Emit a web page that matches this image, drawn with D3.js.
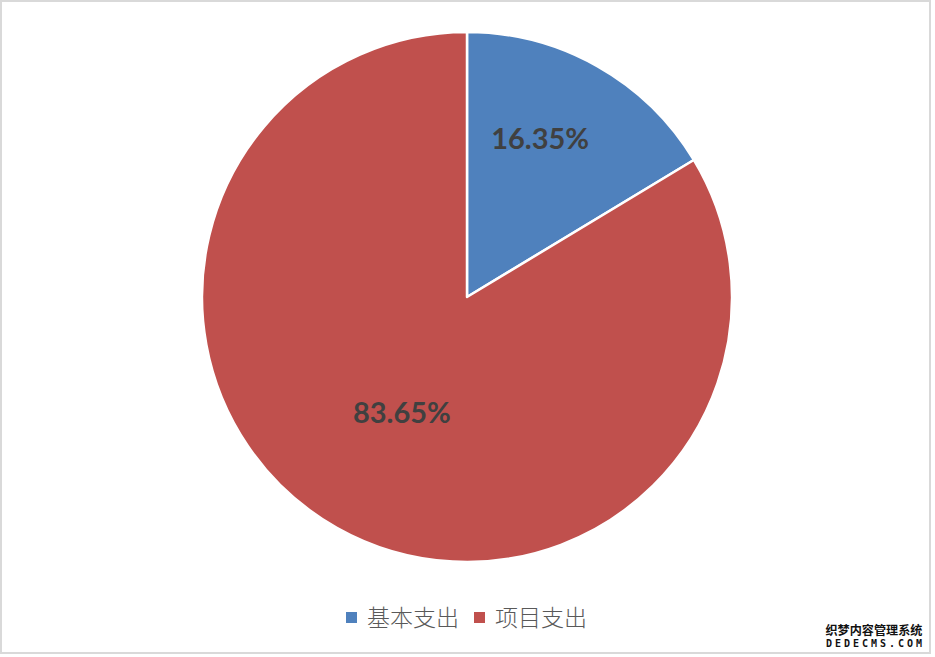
<!DOCTYPE html>
<html>
<head>
<meta charset="utf-8">
<script src="https://cdn.jsdelivr.net/npm/d3@7"></script>
<style>
  html, body { margin: 0; padding: 0; background: #fff; }
  svg { display: block; }
</style>
</head>
<body>
<svg id="chart"></svg>
<script>
// chart values
var categories = ["基本支出", "项目支出"];
var shares = [16.35, 83.65];
var labels = ["16.35%", "83.65%"];
var colors = ["#4F81BD", "#C0504D"];

var width = 935;
var height = 657;
var cx = 467, cy = 297;
var radius = 265;

var svg = d3.select("#chart")
    .attr("width", width)
    .attr("height", height);

// chart frame
svg.append("rect")
    .attr("x", 1)
    .attr("y", 1)
    .attr("width", 929)
    .attr("height", 652)
    .attr("fill", "#fff")
    .attr("stroke", "#d9d9d9")
    .attr("stroke-width", 2);

var pie = d3.pie()
    .sort(null)
    .value(function(d) { return d; });

var arcs = pie(shares);

var arc = d3.arc()
    .innerRadius(0)
    .outerRadius(radius);

var g = svg.append("g")
    .attr("transform", "translate(" + cx + "," + cy + ")");

g.selectAll("path")
    .data(arcs)
    .enter()
    .append("path")
        .attr("d", arc)
        .attr("fill", function(d, i) { return colors[i]; })
        .attr("stroke", "#fff")
        .attr("stroke-width", 2.5)
        .attr("stroke-linejoin", "round");

// label placement: the small slice gets its label nudged toward the wide part
function labelPos(d, i) {
    var mid = (d.startAngle + d.endAngle) / 2;
    var frac = 0.5;
    if (i === 0) {
        mid = d.startAngle + (d.endAngle - d.startAngle) * 0.42;
        frac = 0.66;
    }
    return [Math.sin(mid) * radius * frac, -Math.cos(mid) * radius * frac];
}

g.selectAll("text.pct")
    .data(arcs)
    .enter()
    .append("text")
        .attr("class", "pct")
        .attr("x", function(d, i) { return labelPos(d, i)[0]; })
        .attr("y", function(d, i) { return labelPos(d, i)[1]; })
        .attr("dy", "0.36em")
        .attr("text-anchor", "middle")
        .style("font-family", "Lato, 'Open Sans', sans-serif")
        .style("font-weight", "bold")
        .style("font-size", "29px")
        .style("fill", "#404040")
        .text(function(d, i) { return labels[i]; });

// legend
var legendX = [346, 474];
var legendY = 617.5;
var legend = svg.append("g");

var item = legend.selectAll("g")
    .data(categories)
    .enter()
    .append("g")
        .attr("transform", function(d, i) { return "translate(" + legendX[i] + "," + legendY + ")"; });

item.append("rect")
    .attr("x", 0)
    .attr("y", -5.5)
    .attr("width", 11)
    .attr("height", 11)
    .attr("fill", function(d, i) { return colors[i]; });

item.append("text")
    .attr("x", 21)
    .attr("y", 0)
    .attr("dy", "0.36em")
    .style("font-family", "'Noto Sans CJK SC', sans-serif")
    .style("font-weight", 300)
    .style("font-size", "23px")
    .style("fill", "#595959")
    .text(function(d) { return d; });

// watermark
var wm = svg.append("g");
wm.append("text")
    .attr("x", 874)
    .attr("y", 635)
    .attr("text-anchor", "middle")
    .attr("textLength", 97)
    .attr("lengthAdjust", "spacingAndGlyphs")
    .style("font-family", "'Noto Sans CJK SC', sans-serif")
    .style("font-weight", "bold")
    .style("font-size", "12px")
    .style("fill", "#111")
    .text("织梦内容管理系统");
wm.append("text")
    .attr("x", 874)
    .attr("y", 647)
    .attr("text-anchor", "middle")
    .attr("textLength", 96)
    .attr("lengthAdjust", "spacing")
    .style("font-family", "'DejaVu Sans Mono', monospace")
    .style("font-weight", "bold")
    .style("font-size", "10px")
    .style("fill", "#111")
    .text("DEDECMS.COM");
</script>
</body>
</html>
